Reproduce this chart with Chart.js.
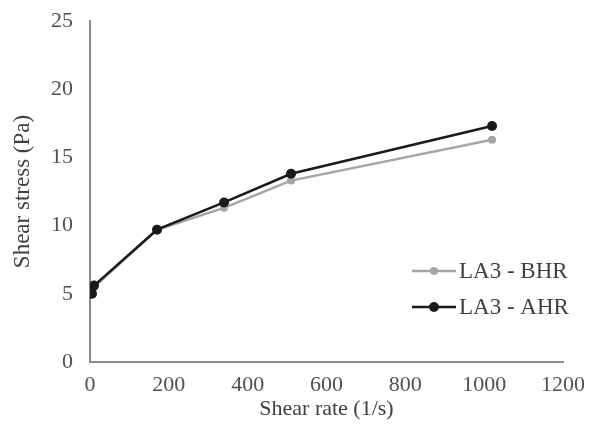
<!DOCTYPE html>
<html>
<head>
<meta charset="utf-8">
<script src="https://cdn.jsdelivr.net/npm/chart.js@4/dist/chart.umd.min.js"></script>
<style>
  html, body { margin: 0; padding: 0; background: #fff; }
  #wrap { width: 594px; height: 433px; }
</style>
</head>
<body>
<div id="wrap"><canvas id="chart"></canvas></div>
<script>
// Shear rates (1/s) and stresses (Pa)
const shearRate = [5.1, 10.2, 170, 340, 510, 1020];
const stressBHR = [5.0, 5.5, 9.7, 11.3, 13.3, 16.3];
const stressAHR = [5.0, 5.6, 9.7, 11.7, 13.8, 17.3];
const seriesNames = ['LA3 - BHR', 'LA3 - AHR'];

const toPoints = (ys) => shearRate.map((x, i) => ({ x: x, y: ys[i] }));

// Legend drawn inside the plot, like the original
const insideLegend = {
  id: 'insideLegend',
  afterDraw(chart) {
    const c = chart.ctx;
    c.save();
    c.font = '23px "Liberation Serif"';
    c.textBaseline = 'middle';
    chart.data.datasets.forEach((ds, i) => {
      const y = 271 + i * 36;
      const x0 = 412, x1 = 456;
      c.strokeStyle = ds.borderColor;
      c.lineWidth = ds.borderWidth;
      c.beginPath();
      c.moveTo(x0, y);
      c.lineTo(x1, y);
      c.stroke();
      c.fillStyle = ds.pointBackgroundColor;
      c.beginPath();
      c.arc((x0 + x1) / 2, y, ds.pointRadius, 0, Math.PI * 2);
      c.fill();
      c.fillStyle = '#404040';
      c.fillText(seriesNames[i], x1 + 3, y + 1);
    });
    c.restore();
  },
};

const ctx = document.getElementById('chart').getContext('2d');
new Chart(ctx, {
  type: 'line',
  data: {
    datasets: [
      {
        label: seriesNames[0],
        data: toPoints(stressBHR),
        borderColor: '#a6a6a6',
        backgroundColor: '#a6a6a6',
        pointBackgroundColor: '#a6a6a6',
        pointBorderWidth: 0,
        pointRadius: 4,
        borderWidth: 2.5,
        order: 1,
      },
      {
        label: seriesNames[1],
        data: toPoints(stressAHR),
        borderColor: '#1a1a1a',
        backgroundColor: '#1a1a1a',
        pointBackgroundColor: '#1a1a1a',
        pointBorderWidth: 0,
        pointRadius: 5,
        borderWidth: 2.5,
        order: 0,
      },
    ],
  },
  options: {
    responsive: true,
    maintainAspectRatio: false,
    animation: false,
    layout: { padding: { top: 21, right: 31, left: 0, bottom: 0 } },
    plugins: {
      legend: { display: false },
      tooltip: { enabled: false },
    },
    scales: {
      x: {
        type: 'linear',
        min: 0,
        max: 1200,
        ticks: {
          stepSize: 200,
          color: '#505050',
          padding: 10,
          callback: (v) => String(v),
          font: { family: '"Liberation Serif"', size: 22 },
        },
        grid: { display: false, drawTicks: false },
        border: { color: '#8c8c8c', width: 2 },
        title: {
          display: true,
          text: 'Shear rate (1/s)',
          color: '#404040',
          padding: { top: 0, bottom: 11 },
          font: { family: '"Liberation Serif"', size: 22 },
        },
        afterFit(scale) {
          scale.height = 71;
          scale.paddingLeft = 0;
          scale.paddingRight = 0;
        },
      },
      y: {
        min: 0,
        max: 25,
        ticks: {
          stepSize: 5,
          color: '#505050',
          padding: 17,
          font: { family: '"Liberation Serif"', size: 22 },
        },
        grid: { display: false, drawTicks: false },
        border: { color: '#8c8c8c', width: 2 },
        title: {
          display: true,
          text: 'Shear stress (Pa)',
          color: '#404040',
          padding: { top: 9, bottom: 0 },
          font: { family: '"Liberation Serif"', size: 23 },
        },
        afterFit(scale) {
          scale.width = 90;
          scale.paddingTop = 0;
          scale.paddingBottom = 0;
        },
      },
    },
  },
  plugins: [insideLegend],
});
</script>
</body>
</html>
